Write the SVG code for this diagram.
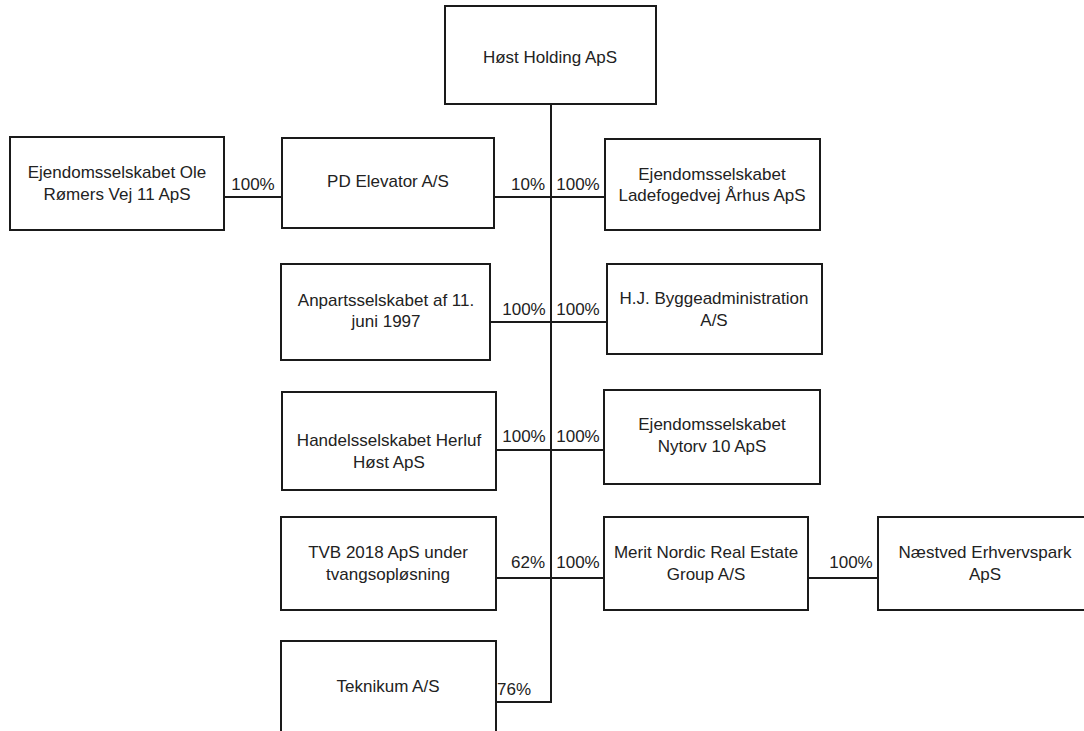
<svg xmlns="http://www.w3.org/2000/svg" width="1084" height="731" viewBox="0 0 1084 731">
<style>
.box{fill:#fff;stroke:#1a1a1a;stroke-width:2}
.t{font-family:"Liberation Sans",Arial,sans-serif;font-size:17px;fill:#222;text-anchor:middle}
.c line{stroke:#1a1a1a;stroke-width:2}
</style>
<rect width="1084" height="731" fill="#fff"/>
<g class="c" id="connectors">
<line x1="551" y1="104" x2="551" y2="703"/>
<line x1="224" y1="197" x2="282" y2="197"/>
<line x1="494" y1="197" x2="605" y2="197"/>
<line x1="490" y1="322" x2="607" y2="322"/>
<line x1="496" y1="450" x2="604" y2="450"/>
<line x1="496" y1="578" x2="604" y2="578"/>
<line x1="808" y1="578" x2="878" y2="578"/>
<line x1="496" y1="702" x2="552" y2="702"/>
<text class="t" x="253" y="190">100%</text>
<text class="t" x="528" y="190">10%</text>
<text class="t" x="578" y="190">100%</text>
<text class="t" x="524" y="315">100%</text>
<text class="t" x="578" y="315">100%</text>
<text class="t" x="524" y="442">100%</text>
<text class="t" x="578" y="442">100%</text>
<text class="t" x="528" y="568">62%</text>
<text class="t" x="578" y="568">100%</text>
<text class="t" x="851" y="568">100%</text>
<text class="t" x="514" y="695">76%</text>
</g>
<g id="holding"><rect class="box" x="445" y="6" width="211" height="98"/><text class="t" x="550" y="63">Høst Holding ApS</text></g>
<g id="ole"><rect class="box" x="10" y="137" width="214" height="93"/><text class="t" x="117" y="178">Ejendomsselskabet Ole</text><text class="t" x="117" y="200">Rømers Vej 11 ApS</text></g>
<g id="pd"><rect class="box" x="282" y="138" width="212" height="90"/><text class="t" x="388" y="187">PD Elevator A/S</text></g>
<g id="lade"><rect class="box" x="605" y="139" width="215" height="91"/><text class="t" x="712" y="180">Ejendomsselskabet</text><text class="t" x="712" y="201">Ladefogedvej Århus ApS</text></g>
<g id="anparts"><rect class="box" x="281" y="264" width="209" height="96"/><text class="t" x="386" y="306">Anpartsselskabet af 11.</text><text class="t" x="386" y="327">juni 1997</text></g>
<g id="hj"><rect class="box" x="607" y="264" width="215" height="90"/><text class="t" x="714" y="304">H.J. Byggeadministration</text><text class="t" x="714" y="326">A/S</text></g>
<g id="handels"><rect class="box" x="282" y="392" width="214" height="98"/><text class="t" x="389" y="446">Handelsselskabet Herluf</text><text class="t" x="389" y="468">Høst ApS</text></g>
<g id="nytorv"><rect class="box" x="604" y="390" width="216" height="94"/><text class="t" x="712" y="430">Ejendomsselskabet</text><text class="t" x="712" y="452">Nytorv 10 ApS</text></g>
<g id="tvb"><rect class="box" x="281" y="517" width="215" height="93"/><text class="t" x="388" y="558">TVB 2018 ApS under</text><text class="t" x="388" y="580">tvangsopløsning</text></g>
<g id="merit"><rect class="box" x="604" y="517" width="204" height="93"/><text class="t" x="706" y="558">Merit Nordic Real Estate</text><text class="t" x="706" y="580">Group A/S</text></g>
<g id="naestved"><rect class="box" x="878" y="517" width="210" height="93"/><text class="t" x="985" y="558">Næstved Erhvervspark</text><text class="t" x="985" y="580">ApS</text></g>
<g id="teknikum"><rect class="box" x="281" y="641" width="215" height="100"/><text class="t" x="388" y="692">Teknikum A/S</text></g>
</svg>
